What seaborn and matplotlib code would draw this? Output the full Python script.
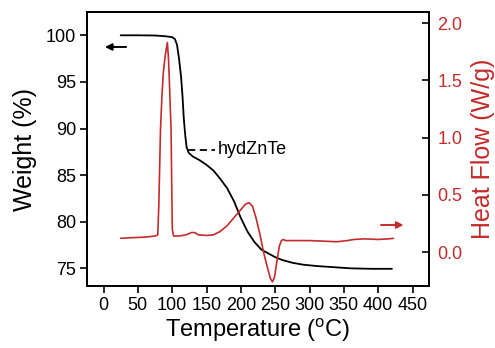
import matplotlib
matplotlib.use("Agg")
import matplotlib.pyplot as plt
import seaborn as sns
import pandas as pd

# ---- data ----
tga_temp = [25, 50, 75, 90, 100, 104, 107, 110, 113, 115, 117, 119, 121, 124, 130, 140,
            150, 160, 170, 180, 190, 200, 210, 220, 230, 240, 250, 260, 275, 290, 310,
            330, 360, 390, 420]
tga_weight = [100.0, 100.0, 99.98, 99.9, 99.8, 99.6, 99.0, 97.5, 95.5, 93.5, 91.0, 89.3,
              88.0, 87.4, 87.0, 86.6, 86.1, 85.5, 84.6, 83.6, 82.2, 80.4, 78.9, 77.8, 77.0,
              76.6, 76.2, 75.9, 75.6, 75.4, 75.25, 75.15, 75.0, 74.95, 74.95]

dsc_temp = [25, 40, 60, 75, 79, 80.5, 82, 83, 85, 87, 90, 93, 94.5, 95.5, 97, 98.4, 99.3,
            100.2, 102, 110, 120, 128, 133, 138, 150, 160, 170, 180, 190, 200, 207, 212,
            217, 222, 228, 233, 238, 243, 246, 249, 252, 256, 259, 262, 265, 280, 300, 320,
            340, 355, 365, 380, 400, 415, 422]
dsc_heat = [0.12, 0.125, 0.13, 0.14, 0.15, 0.4, 0.8, 1.07, 1.35, 1.56, 1.72, 1.83, 1.7,
            1.56, 1.3, 1.07, 0.6, 0.2, 0.14, 0.14, 0.15, 0.17, 0.17, 0.15, 0.145, 0.15, 0.18,
            0.23, 0.3, 0.37, 0.42, 0.43, 0.4, 0.3, 0.15, 0.0, -0.12, -0.23, -0.26, -0.22,
            -0.1, 0.05, 0.1, 0.11, 0.1, 0.1, 0.1, 0.095, 0.09, 0.1, 0.11, 0.115, 0.11,
            0.115, 0.12]

x_ticks = [0, 50, 100, 150, 200, 250, 300, 350, 400, 450]
left_ticks = [75, 80, 85, 90, 95, 100]
right_ticks = [0.0, 0.5, 1.0, 1.5, 2.0]
sample_label = "hydZnTe"

RED = "#C42B2B"

sns.set_theme(style="ticks")
plt.rcParams["font.family"] = ["Liberation Sans", "DejaVu Sans"]
plt.rcParams["axes.linewidth"] = 1.4
plt.rcParams["text.color"] = "black"
plt.rcParams["axes.labelcolor"] = "black"
plt.rcParams["mathtext.default"] = "regular"

fig = plt.figure(figsize=(4.95, 3.48), dpi=100)
ax = fig.add_axes([0.1758, 0.178, 0.6909, 0.7875])
ax2 = ax.twinx()

tga = pd.DataFrame({"T": tga_temp, "W": tga_weight})
dsc = pd.DataFrame({"T": dsc_temp, "H": dsc_heat})

sns.lineplot(data=tga, x="T", y="W", ax=ax, color="black", lw=1.3, sort=False)
sns.lineplot(data=dsc, x="T", y="H", ax=ax2, color=RED, lw=1.2, sort=False)

ax.set_xlim(-24, 474)
ax.set_ylim(73.1, 102.5)
ax2.set_ylim(-0.297, 2.096)

ax.set_xticks(x_ticks)
ax.set_yticks(left_ticks)
ax2.set_yticks(right_ticks)
ax2.set_yticklabels([f"{v:.1f}" for v in right_ticks])

ax.tick_params(axis="both", direction="out", length=5, width=1.2, labelsize=13,
               colors="black", pad=3)
ax2.tick_params(axis="y", direction="in", length=5, width=1.2, labelsize=13,
                labelcolor=RED, color="black", pad=6)

ax.set_xlabel("Temperature ($^{o}$C)", fontsize=17, labelpad=2)
ax.set_ylabel("Weight (%)", fontsize=18, labelpad=6)
ax2.set_ylabel("Heat Flow (W/g)", fontsize=18, color=RED, labelpad=6)

for a in (ax, ax2):
    for s in a.spines.values():
        s.set_visible(True)
        s.set_linewidth(1.4)
        s.set_color("black")

# arrows
ax.annotate("", xy=(-2, 98.75), xytext=(37, 98.75),
            arrowprops=dict(arrowstyle="-|>", color="black", lw=1.4, mutation_scale=10))
ax2.annotate("", xy=(441, 0.236), xytext=(400, 0.236),
             arrowprops=dict(arrowstyle="-|>", color=RED, lw=1.4, mutation_scale=10))

# sample label with dashed line
ax.plot([123, 162], [87.7, 87.7], color="black", lw=1.3, ls=(0, (4, 2.5)))
ax.text(166, 87.7, sample_label, fontsize=13, va="center", ha="left")

fig.savefig("out.png", dpi=100)
